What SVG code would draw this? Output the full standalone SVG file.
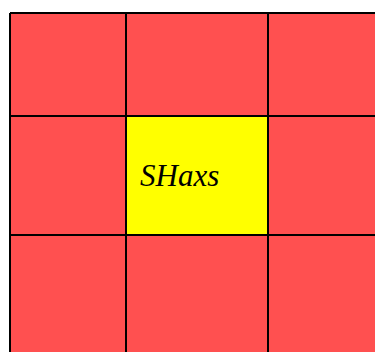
<svg xmlns="http://www.w3.org/2000/svg" width="375" height="352" viewBox="0 0 375 352">
<style>
.cell{fill:#ff5050;}
.center{fill:#ffff00;}
.line{stroke:#000;stroke-width:2;fill:none;}
.lbl{font-family:"Liberation Serif",serif;font-style:italic;font-size:31px;fill:#000;}
</style>
<rect width="375" height="352" fill="#fff"/>
<g id="cells">
<rect class="cell" x="10" y="13" width="365" height="339"/>
<rect class="center" x="126" y="116" width="142" height="119"/>
</g>
<g id="connectors">
<path class="line" d="M10,13H375M10,116H375M10,235H375M10,13V352M126,13V352M268,13V352"/>
</g>
<g id="node-center">
<text class="lbl" x="140" y="186">SHaxs</text>
</g>
</svg>
